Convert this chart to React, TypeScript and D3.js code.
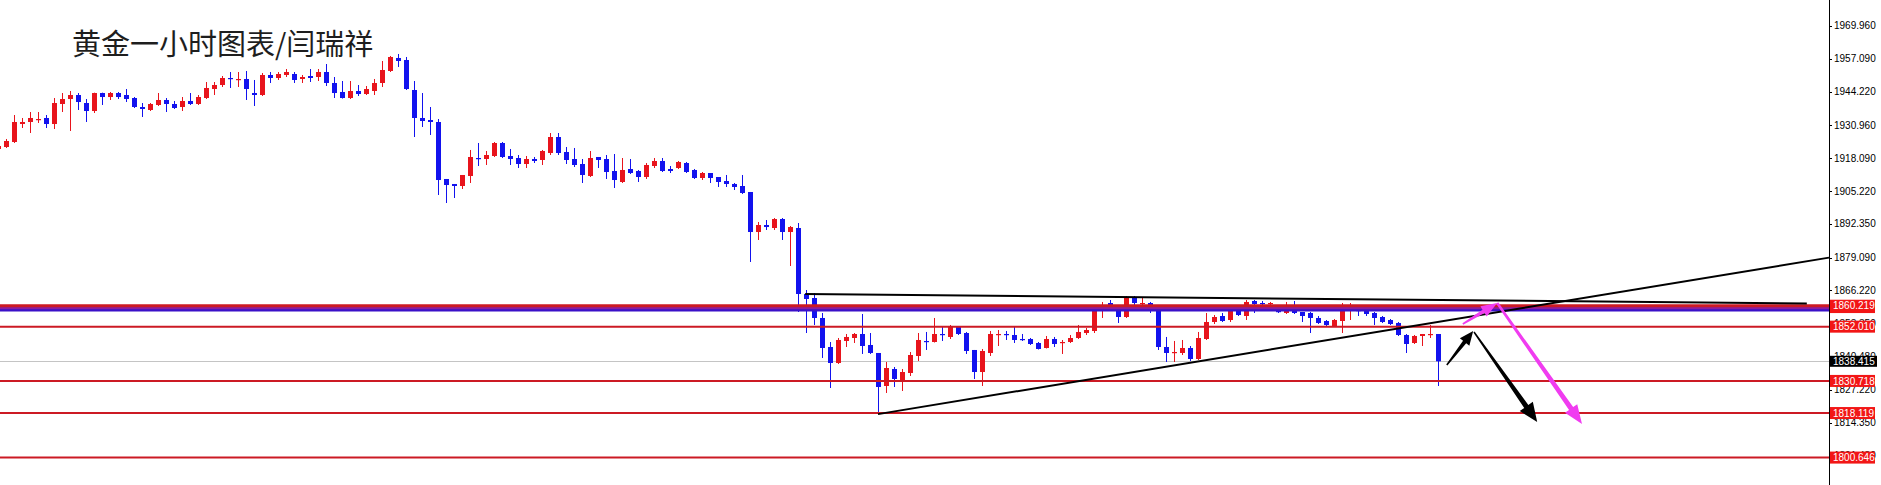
import React from "react";
import * as d3 from "d3";

const W = 1881;
const H = 485;
const AXIS_X = 1829;

// Hourly gold candles: [open, high, low, close]
const ohlc: [number, number, number, number][] = [
  [1921.71, 1923.67, 1920.92, 1922.88],
  [1922.49, 1925.63, 1922.10, 1924.85],
  [1924.45, 1935.04, 1924.06, 1932.30],
  [1931.51, 1933.87, 1929.94, 1932.30],
  [1932.30, 1936.22, 1927.98, 1933.87],
  [1933.08, 1936.22, 1931.91, 1933.47],
  [1933.87, 1935.04, 1929.94, 1931.51],
  [1931.51, 1941.71, 1929.55, 1939.75],
  [1939.36, 1943.67, 1936.22, 1941.32],
  [1941.32, 1944.46, 1928.77, 1942.89],
  [1942.89, 1943.67, 1937.01, 1940.14],
  [1939.75, 1941.32, 1932.30, 1936.61],
  [1936.61, 1943.80, 1935.83, 1943.67],
  [1943.67, 1943.80, 1938.97, 1942.10],
  [1942.10, 1944.07, 1940.93, 1943.67],
  [1943.67, 1944.07, 1941.32, 1942.10],
  [1942.89, 1945.24, 1940.14, 1941.32],
  [1941.71, 1942.10, 1937.79, 1938.18],
  [1938.18, 1939.75, 1934.26, 1937.40],
  [1937.01, 1939.75, 1936.61, 1939.36],
  [1938.97, 1943.67, 1938.57, 1940.93],
  [1940.93, 1941.71, 1936.22, 1939.36],
  [1939.36, 1940.54, 1937.40, 1937.79],
  [1938.18, 1942.10, 1936.61, 1940.54],
  [1940.54, 1943.67, 1938.97, 1939.36],
  [1939.36, 1942.89, 1938.97, 1942.10],
  [1941.71, 1947.99, 1941.32, 1945.64],
  [1945.24, 1947.99, 1942.89, 1946.81],
  [1946.81, 1950.34, 1946.03, 1949.56],
  [1949.56, 1951.91, 1945.64, 1949.17],
  [1948.78, 1951.91, 1946.03, 1949.17],
  [1949.17, 1952.31, 1940.93, 1945.24],
  [1943.67, 1948.78, 1938.57, 1942.89],
  [1942.89, 1951.52, 1942.50, 1950.74],
  [1950.74, 1951.91, 1947.60, 1949.56],
  [1949.56, 1951.91, 1948.78, 1951.13],
  [1950.74, 1953.09, 1949.95, 1951.91],
  [1951.13, 1951.91, 1947.60, 1948.78],
  [1949.17, 1950.74, 1947.60, 1949.95],
  [1950.34, 1953.09, 1947.99, 1949.56],
  [1949.95, 1953.09, 1948.38, 1951.91],
  [1951.91, 1955.05, 1946.42, 1947.60],
  [1947.60, 1949.95, 1941.71, 1943.67],
  [1944.07, 1948.38, 1941.50, 1941.71],
  [1941.71, 1948.38, 1941.32, 1944.46],
  [1944.46, 1946.81, 1942.50, 1943.28],
  [1943.28, 1946.42, 1942.89, 1945.24],
  [1944.46, 1949.17, 1942.89, 1947.60],
  [1947.60, 1956.23, 1946.03, 1952.70],
  [1952.31, 1958.20, 1951.91, 1957.80],
  [1957.41, 1958.98, 1953.88, 1956.23],
  [1956.62, 1957.80, 1944.85, 1945.24],
  [1944.85, 1948.38, 1926.41, 1933.87],
  [1933.87, 1943.67, 1930.34, 1932.69],
  [1933.08, 1938.18, 1927.20, 1932.30],
  [1932.30, 1933.47, 1903.66, 1909.54],
  [1909.94, 1909.94, 1900.52, 1907.58],
  [1907.98, 1907.98, 1902.48, 1907.19],
  [1907.19, 1911.51, 1906.01, 1911.51],
  [1911.11, 1921.32, 1908.37, 1918.57],
  [1918.17, 1924.06, 1915.04, 1917.78],
  [1917.78, 1920.92, 1915.43, 1919.35],
  [1918.96, 1924.45, 1918.57, 1924.06],
  [1924.06, 1924.45, 1918.17, 1918.57],
  [1918.96, 1921.71, 1915.43, 1917.78],
  [1918.17, 1919.35, 1914.25, 1915.82],
  [1915.82, 1918.96, 1914.25, 1917.78],
  [1917.78, 1918.57, 1916.21, 1917.00],
  [1917.39, 1921.32, 1915.43, 1920.92],
  [1920.14, 1927.98, 1919.35, 1926.41],
  [1926.41, 1927.98, 1919.35, 1920.14],
  [1920.53, 1922.49, 1915.82, 1917.39],
  [1917.78, 1922.10, 1914.64, 1915.43],
  [1915.82, 1917.78, 1908.37, 1911.51],
  [1911.11, 1920.92, 1910.72, 1918.17],
  [1918.57, 1918.57, 1914.25, 1917.39],
  [1917.78, 1919.35, 1909.94, 1912.68],
  [1913.07, 1919.74, 1906.41, 1909.54],
  [1908.76, 1918.17, 1908.37, 1913.47],
  [1913.86, 1917.78, 1911.90, 1912.29],
  [1913.07, 1913.47, 1908.76, 1910.72],
  [1910.72, 1916.21, 1909.94, 1915.43],
  [1915.04, 1918.17, 1914.25, 1917.00],
  [1917.00, 1918.17, 1912.68, 1913.07],
  [1913.86, 1915.04, 1912.29, 1913.07],
  [1914.25, 1917.00, 1913.86, 1916.61],
  [1916.21, 1916.61, 1912.29, 1912.68],
  [1913.47, 1913.86, 1909.94, 1910.33],
  [1910.33, 1912.68, 1909.54, 1912.29],
  [1912.29, 1912.29, 1908.37, 1910.33],
  [1910.72, 1910.72, 1906.80, 1908.76],
  [1909.15, 1911.51, 1906.80, 1907.98],
  [1907.98, 1908.37, 1905.62, 1906.80],
  [1907.19, 1911.51, 1904.05, 1904.45],
  [1904.84, 1904.84, 1877.38, 1889.14],
  [1889.14, 1893.07, 1886.01, 1891.89],
  [1891.89, 1893.85, 1889.93, 1891.10],
  [1890.71, 1894.63, 1889.93, 1894.24],
  [1894.24, 1894.63, 1886.01, 1889.14],
  [1889.14, 1891.50, 1875.81, 1891.10],
  [1890.71, 1892.67, 1857.76, 1864.82],
  [1864.82, 1866.39, 1849.52, 1862.86],
  [1863.25, 1865.21, 1852.66, 1855.41],
  [1855.41, 1857.37, 1839.72, 1843.64],
  [1844.03, 1845.99, 1827.94, 1837.75],
  [1837.75, 1847.56, 1837.36, 1846.78],
  [1846.39, 1849.13, 1844.03, 1847.96],
  [1847.56, 1849.52, 1845.60, 1849.13],
  [1849.13, 1856.98, 1841.29, 1844.42],
  [1844.82, 1849.52, 1841.29, 1841.68],
  [1841.68, 1841.68, 1818.53, 1828.34],
  [1828.73, 1838.15, 1825.99, 1835.79],
  [1835.40, 1836.18, 1828.34, 1831.48],
  [1830.30, 1835.40, 1826.77, 1834.22],
  [1833.83, 1842.07, 1832.65, 1840.89],
  [1840.50, 1849.52, 1838.54, 1846.78],
  [1846.39, 1849.92, 1842.86, 1845.99],
  [1845.99, 1855.41, 1845.80, 1849.13],
  [1849.13, 1851.88, 1846.39, 1848.74],
  [1847.96, 1852.66, 1847.17, 1852.27],
  [1851.88, 1852.27, 1848.74, 1849.13],
  [1849.52, 1849.92, 1841.29, 1842.46],
  [1842.86, 1842.86, 1831.48, 1834.22],
  [1834.22, 1843.25, 1828.73, 1842.46],
  [1841.68, 1850.31, 1840.50, 1849.13],
  [1848.74, 1850.70, 1844.42, 1849.13],
  [1849.13, 1850.31, 1846.78, 1848.74],
  [1848.74, 1852.27, 1845.60, 1846.78],
  [1847.17, 1849.13, 1846.39, 1846.78],
  [1847.17, 1847.56, 1844.82, 1845.21],
  [1845.60, 1845.99, 1843.05, 1843.25],
  [1843.64, 1848.35, 1843.45, 1847.17],
  [1847.17, 1847.96, 1844.03, 1845.21],
  [1845.60, 1846.78, 1841.29, 1845.99],
  [1845.99, 1848.74, 1845.60, 1847.56],
  [1847.56, 1852.66, 1847.17, 1849.92],
  [1849.52, 1851.48, 1848.74, 1850.70],
  [1850.31, 1859.33, 1849.52, 1858.55],
  [1858.15, 1861.69, 1855.41, 1860.51],
  [1861.29, 1862.47, 1858.55, 1860.30],
  [1858.55, 1860.51, 1853.45, 1855.80],
  [1855.80, 1864.04, 1855.41, 1863.25],
  [1863.25, 1864.04, 1860.51, 1861.29],
  [1860.90, 1863.25, 1859.72, 1861.29],
  [1861.29, 1861.69, 1857.37, 1860.51],
  [1859.33, 1860.51, 1842.86, 1844.03],
  [1844.03, 1847.96, 1838.15, 1841.68],
  [1841.68, 1846.39, 1838.15, 1842.07],
  [1841.68, 1846.78, 1840.89, 1843.64],
  [1843.64, 1844.42, 1838.54, 1839.32],
  [1839.32, 1849.92, 1838.93, 1847.56],
  [1847.17, 1857.37, 1846.78, 1853.84],
  [1853.84, 1856.58, 1853.05, 1855.80],
  [1856.19, 1857.37, 1853.84, 1854.23],
  [1854.62, 1860.12, 1853.84, 1859.33],
  [1858.55, 1859.33, 1856.19, 1856.58],
  [1856.19, 1862.47, 1854.62, 1861.69],
  [1862.08, 1862.47, 1857.37, 1860.90],
  [1861.29, 1862.08, 1860.12, 1860.90],
  [1860.90, 1861.69, 1860.12, 1861.29],
  [1858.15, 1858.94, 1857.37, 1857.76],
  [1857.37, 1861.69, 1856.98, 1859.33],
  [1858.94, 1862.08, 1856.98, 1857.37],
  [1857.76, 1857.76, 1853.84, 1856.19],
  [1857.37, 1857.76, 1849.52, 1855.41],
  [1855.41, 1856.19, 1853.05, 1853.45],
  [1854.23, 1854.62, 1852.27, 1852.66],
  [1852.27, 1855.01, 1851.88, 1854.62],
  [1854.23, 1861.29, 1849.52, 1858.94],
  [1858.55, 1861.29, 1854.62, 1858.94],
  [1858.55, 1858.94, 1856.19, 1858.15],
  [1858.15, 1858.94, 1856.19, 1856.98],
  [1857.37, 1857.76, 1852.66, 1855.41],
  [1855.80, 1856.19, 1853.45, 1853.84],
  [1854.62, 1855.01, 1852.66, 1853.05],
  [1853.45, 1853.84, 1848.35, 1848.74],
  [1848.74, 1849.13, 1841.68, 1845.21],
  [1845.60, 1848.74, 1845.21, 1848.35],
  [1848.35, 1849.13, 1844.42, 1849.13],
  [1848.74, 1852.66, 1847.56, 1849.13],
  [1849.13, 1849.13, 1828.73, 1838.415],
];

const priceTicks = [
  1969.96, 1957.09, 1944.22, 1930.96, 1918.09, 1905.22, 1892.35,
  1879.09, 1866.22, 1853.35, 1840.48, 1827.22, 1814.35, 1801.48,
];

const redLevels = [1852.01, 1830.718, 1818.119, 1800.646];
const bandRed = 1860.219;
const bandPurple = 1859.3;
const bandBlue = 1858.45;
const hiddenLabel = 1859.7;
const bidPrice = 1838.415;

// trend lines: [startIndex, startPrice, endIndex, endPrice]
const trendLines: [number, number, number, number][] = [
  [100.9, 1864.8, 226.1, 1861.1],
  [110.0, 1817.7, 228.875, 1879.09],
];

// arrows: [startIndex, startPrice, endIndex, endPrice]
const blackArrows: [number, number, number, number][] = [
  [181.1, 1836.97, 184.4, 1850.31],
  [184.5, 1849.92, 192.4, 1814.6],
];
const magentaArrows: [number, number, number, number][] = [
  [183.1, 1853.05, 187.4, 1861.29],
  [187.4, 1861.29, 198.0, 1813.8],
];

const titleText = "黄金一小时图表/闫瑞祥";

const x = d3.scaleLinear().domain([0, 228.875]).range([-2, AXIS_X]);
const y = d3.scaleLinear().domain([1789.89, 1980.16]).range([H, 0]);

function arrowPath(
  a: [number, number, number, number],
  headLen: number,
  headHalf: number,
  w0: number,
  w1: number
) {
  const sx = x(a[0]), sy = y(a[1]), tx = x(a[2]), ty = y(a[3]);
  const dx = tx - sx, dy = ty - sy;
  const len = Math.hypot(dx, dy);
  const ux = dx / len, uy = dy / len;
  const nx = -uy, ny = ux;
  const bx = tx - ux * headLen, by = ty - uy * headLen;
  const pts: [number, number][] = [
    [sx + (nx * w0) / 2, sy + (ny * w0) / 2],
    [bx + (nx * w1) / 2, by + (ny * w1) / 2],
    [bx + nx * headHalf, by + ny * headHalf],
    [tx, ty],
    [bx - nx * headHalf, by - ny * headHalf],
    [bx - (nx * w1) / 2, by - (ny * w1) / 2],
    [sx - (nx * w0) / 2, sy - (ny * w0) / 2],
  ];
  return d3.line()(pts) + "Z";
}

const UP = "#e8141c";
const DOWN = "#1212ee";
const LEVEL = "#cc1a24";
const LABEL_BG = "#f21616";
const FONT = "'Liberation Sans', Arial, sans-serif";

export default function App() {
  const fmt = (v: number) => v.toFixed(3);
  return (
    <svg
      width={W}
      height={H}
      style={{ position: "absolute", left: 0, top: 0, background: "#fff" }}
    >
      <rect x={0} y={0} width={W} height={H} fill="#ffffff" />

      {/* bid line */}
      <line x1={0} x2={AXIS_X} y1={Math.round(y(bidPrice)) + 0.5} y2={Math.round(y(bidPrice)) + 0.5} stroke="#c4c4c4" strokeWidth={1} />

      {/* candles */}
      {ohlc.map((d, i) => {
        const [o, h, l, c] = d;
        const cx = Math.round(x(i));
        const col = c >= o ? UP : DOWN;
        const top = y(Math.max(o, c));
        const bot = y(Math.min(o, c));
        return (
          <g key={i}>
            <line x1={cx + 0.5} x2={cx + 0.5} y1={y(h)} y2={y(l)} stroke={col} strokeWidth={1} />
            <rect x={cx - 2} y={top} width={5} height={Math.max(1.2, bot - top)} fill={col} />
          </g>
        );
      })}

      {/* horizontal levels */}
      {redLevels.map((v) => (
        <line key={v} x1={0} x2={AXIS_X} y1={y(v)} y2={y(v)} stroke={LEVEL} strokeWidth={2} />
      ))}
      <line x1={0} x2={AXIS_X} y1={y(bandBlue)} y2={y(bandBlue)} stroke="#3a10c8" strokeWidth={2.5} />
      <line x1={0} x2={AXIS_X} y1={y(bandPurple)} y2={y(bandPurple)} stroke="#8a1e9e" strokeWidth={2.5} />
      <line x1={0} x2={AXIS_X} y1={y(bandRed)} y2={y(bandRed)} stroke={LEVEL} strokeWidth={3} />

      {/* trend lines */}
      {trendLines.map((t, k) => (
        <line key={k} x1={x(t[0])} y1={y(t[1])} x2={x(t[2])} y2={y(t[3])} stroke="#000" strokeWidth={2} />
      ))}

      {/* arrows */}
      <path d={arrowPath(blackArrows[0], 14, 6, 1.5, 4)} fill="#000" />
      <path d={arrowPath(blackArrows[1], 19, 8, 1.5, 5)} fill="#000" />
      <path d={arrowPath(magentaArrows[0], 16, 6, 1.5, 4)} fill="#f03cf0" />
      <path d={arrowPath(magentaArrows[1], 19, 7.5, 2.5, 5)} fill="#f03cf0" />

      {/* title */}
      <text x={72} y={55} fontSize={29} fontFamily="'Noto Sans CJK SC', sans-serif" fill="#1e1e1e">
        {titleText}
      </text>

      {/* right axis */}
      <rect x={AXIS_X + 1} y={0} width={W - AXIS_X - 1} height={H} fill="#fff" />
      <line x1={AXIS_X + 0.5} x2={AXIS_X + 0.5} y1={0} y2={H} stroke="#000" strokeWidth={1} />
      {priceTicks.map((v) => (
        <g key={v}>
          <line x1={AXIS_X} x2={AXIS_X + 3} y1={Math.round(y(v)) + 0.5} y2={Math.round(y(v)) + 0.5} stroke="#000" />
          <text x={AXIS_X + 5} y={y(v)} dy="0.35em" fontSize={10} fontFamily={FONT} fill="#000">
            {fmt(v)}
          </text>
        </g>
      ))}

      {/* price labels */}
      {[hiddenLabel, bandRed, ...redLevels].map((v) => (
        <g key={"l" + v}>
          <rect x={AXIS_X + 1} y={y(v) - 6} width={45} height={12} fill={LABEL_BG} />
          <text x={AXIS_X + 4} y={y(v)} dy="0.36em" fontSize={10} fontFamily={FONT} fill="#fff">
            {fmt(v)}
          </text>
        </g>
      ))}
      <rect x={AXIS_X + 1} y={y(bidPrice) - 5.5} width={47} height={11} fill="#000" />
      <text x={AXIS_X + 4} y={y(bidPrice)} dy="0.36em" fontSize={10} fontFamily={FONT} fill="#fff">
        {fmt(bidPrice)}
      </text>
    </svg>
  );
}
